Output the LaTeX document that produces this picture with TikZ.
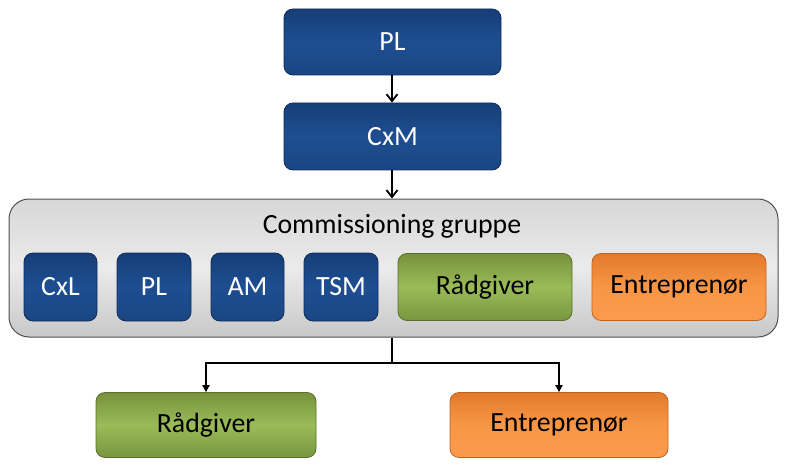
\documentclass[tikz,border=0pt]{standalone}
\usepackage{fontspec}
\setmainfont{Carlito}
\usetikzlibrary{arrows.meta}
\definecolor{bluetop}{RGB}{22,62,120}
\definecolor{bluemid}{RGB}{30,78,145}
\definecolor{bluebot}{RGB}{26,70,130}
\definecolor{blueedge}{RGB}{16,45,90}
\definecolor{greentop}{RGB}{118,146,60}
\definecolor{greenmid}{RGB}{155,187,89}
\definecolor{greenbot}{RGB}{120,150,62}
\definecolor{greenedge}{RGB}{90,112,45}
\definecolor{orangetop}{RGB}{226,122,44}
\definecolor{orangemid}{RGB}{248,150,70}
\definecolor{orangebot}{RGB}{250,155,75}
\definecolor{orangeedge}{RGB}{190,100,35}
\definecolor{graytop}{RGB}{215,215,215}
\definecolor{graymid}{RGB}{235,235,235}
\definecolor{graybot}{RGB}{200,200,200}
\definecolor{grayedge}{RGB}{80,80,80}
\begin{document}
\begin{tikzpicture}[x=1pt,y=-1pt,
  every node/.style={font=\fontsize{27.8}{33}\selectfont},
  boxbase/.style={rounded corners=9pt, line width=0.8pt, inner sep=0pt},
  bluebox/.style={boxbase, draw=blueedge, top color=bluetop, bottom color=bluebot, middle color=bluemid, text=white},
  greenbox/.style={boxbase, draw=greenedge, top color=greentop, bottom color=greenbot, middle color=greenmid, text=black},
  orangebox/.style={boxbase, draw=orangeedge, top color=orangetop, bottom color=orangebot, middle color=orangemid, text=black},
  groupbox/.style={rounded corners=20pt, line width=1pt, draw=grayedge, top color=graytop, bottom color=graybot, middle color=graymid, inner sep=0pt},
  conn/.style={line width=1.8pt, draw=black},
  toparrow/.style={conn, -{Straight Barb[length=7pt,width=11pt,line width=1.8pt]}},
  botarrow/.style={conn, -{Triangle[length=7pt,width=7pt]}}
]
\useasboundingbox (0,0) rectangle (789,465);
\node[bluebox, minimum width=217pt, minimum height=66pt] (pl) at (392.5,42) {PL};
\node[bluebox, minimum width=217pt, minimum height=67pt] (cxm) at (392.5,136.5) {CxM};
\node[groupbox, minimum width=769pt, minimum height=138pt] (group) at (393.5,268) {};
\node (title) at (392,226) {Commissioning gruppe};
\node[bluebox, minimum width=73pt, minimum height=68pt] (cxl) at (60.5,287) {CxL};
\node[bluebox, minimum width=74pt, minimum height=68pt] (pl2) at (154,287) {PL};
\node[bluebox, minimum width=73pt, minimum height=68pt] (am) at (247.5,287) {AM};
\node[bluebox, minimum width=74pt, minimum height=68pt] (tsm) at (341,287) {TSM};
\node[greenbox, minimum width=174pt, minimum height=67pt] (rad1) at (485,287) {Rådgiver};
\node[orangebox, minimum width=174pt, minimum height=67pt] (ent1) at (679,287) {Entreprenør};
\node[greenbox, minimum width=220pt, minimum height=65pt] (rad2) at (206,425) {Rådgiver};
\node[orangebox, minimum width=218pt, minimum height=65pt] (ent2) at (559,425) {Entreprenør};
\draw[toparrow] (pl.south -| 392,0) -- (cxm.north -| 392,0);
\draw[toparrow] (cxm.south -| 392,0) -- (group.north -| 392,0);
\draw[conn] (group.south -| 392,0) -- (392,363) coordinate (j);
\draw[botarrow] (j) -| (rad2.north);
\draw[botarrow] (j) -| (ent2.north);
\end{tikzpicture}
\end{document}
